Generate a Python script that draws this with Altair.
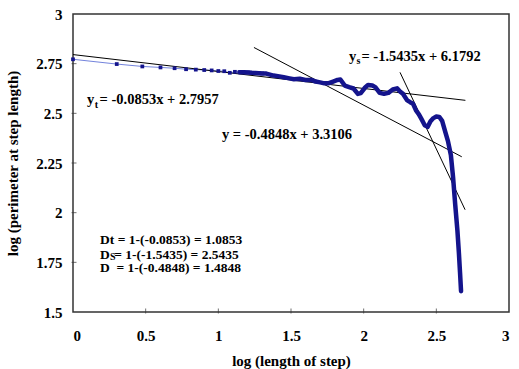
import altair as alt
import pandas as pd

# Divider-method perimeter curve: log10(step length) vs log10(perimeter)
log_step = [0.000, 0.301, 0.477, 0.602, 0.699, 0.778, 0.845, 0.903, 0.954, 1.000,
            1.041, 1.079, 1.114, 1.146, 1.176, 1.204, 1.230, 1.255, 1.279, 1.301,
            1.33, 1.38, 1.42, 1.45, 1.49, 1.52, 1.56, 1.60, 1.64, 1.67,
            1.70, 1.73, 1.76, 1.79, 1.82, 1.84, 1.87, 1.90, 1.93, 1.96,
            1.98, 2.01, 2.03, 2.06, 2.08, 2.11, 2.14, 2.17, 2.20, 2.23,
            2.25, 2.27, 2.30, 2.32, 2.34, 2.36, 2.38, 2.40, 2.42, 2.44,
            2.46, 2.48, 2.50, 2.52, 2.54, 2.56, 2.58, 2.60, 2.615, 2.63,
            2.645, 2.655, 2.663, 2.670]
log_perimeter = [2.772, 2.748, 2.736, 2.731, 2.727, 2.722, 2.720, 2.718, 2.716, 2.713,
                 2.712, 2.704, 2.709, 2.707, 2.707, 2.706, 2.704, 2.703, 2.702, 2.701,
                 2.700, 2.690, 2.686, 2.682, 2.676, 2.672, 2.674, 2.668, 2.668, 2.660,
                 2.656, 2.651, 2.652, 2.660, 2.668, 2.670, 2.640, 2.632, 2.625, 2.598,
                 2.602, 2.630, 2.643, 2.640, 2.632, 2.603, 2.598, 2.603, 2.620, 2.626,
                 2.610, 2.598, 2.565, 2.556, 2.548, 2.515, 2.495, 2.468, 2.440, 2.432,
                 2.460, 2.476, 2.484, 2.482, 2.462, 2.410, 2.360, 2.290, 2.180, 2.040,
                 1.910, 1.800, 1.700, 1.605]

# Fitted straight lines (textural, overall, structural)
trend_names = ["textural", "overall", "structural"]
trend_slopes = [-0.0853, -0.3848, -1.5435]
trend_intercepts = [2.7957, 3.3106, 6.1792]
trend_x_start = [0.0, 1.245, 2.25]
trend_x_end = [2.70, 2.675, 2.698]

x_ticks = [0, 0.5, 1, 1.5, 2, 2.5, 3]
y_ticks = [1.5, 1.75, 2, 2.25, 2.5, 2.75, 3]

# Equation labels placed in data units
eq_text = ["y", "= -0.0853x + 2.7957", "y = -0.4848x + 3.3106",
           "y", "= -1.5435x + 6.1792"]
eq_x = [0.096, 0.183, 1.025, 1.899, 1.985]
eq_y = [2.567, 2.567, 2.391, 2.785, 2.785]

# Fractal dimension summary lines
dim_text = ["Dt = 1-(-0.0853) = 1.0853", "D", "= 1-(-1.5435) = 2.5435",
            "D\u00a0\u00a0= 1-(-0.4848) = 1.4848"]
dim_x = [0.186, 0.186, 0.284, 0.186]
dim_y = [1.860, 1.789, 1.789, 1.719]

sub_text = ["t", "s", "S"]
sub_x = [0.149, 1.950, 0.2546]
sub_y = [2.542, 2.761, 1.777]

FONT = "Liberation Serif"
NAVY = "#14148c"

curve = pd.DataFrame({"x": log_step, "y": log_perimeter, "i": range(len(log_step))})

trend_rows = []
for name, m, b, x0, x1 in zip(trend_names, trend_slopes, trend_intercepts,
                              trend_x_start, trend_x_end):
    trend_rows.append({"name": name, "x": x0, "y": m * x0 + b})
    trend_rows.append({"name": name, "x": x1, "y": m * x1 + b})
trend = pd.DataFrame(trend_rows)

xs = alt.Scale(domain=[0, 3], nice=False, zero=False)
ys = alt.Scale(domain=[1.5, 3], nice=False, zero=False)

x_axis = alt.Axis(values=x_ticks, labelExpr="'' + datum.value", grid=False,
                  domain=False, ticks=False, tickSize=0, labelPadding=16,
                  labelFont=FONT, labelFontSize=15, labelFontWeight="bold",
                  labelColor="black",
                  title="log (length of step)", titleFont=FONT, titleFontSize=15,
                  titleFontWeight="bold", titleColor="black",
                  titleX=218, titleY=48, titleBaseline="middle", titleAlign="center")
y_axis = alt.Axis(values=y_ticks, labelExpr="'' + datum.value", grid=False,
                  domain=False, ticks=False, tickSize=0, labelPadding=11,
                  labelFont=FONT, labelFontSize=15, labelFontWeight="bold",
                  labelColor="black",
                  title="log (perimeter at step length)", titleFont=FONT,
                  titleFontSize=15, titleFontWeight="bold", titleColor="black",
                  titleX=-61, titleY=149, titleAngle=270,
                  titleBaseline="middle", titleAlign="center")

X = alt.X("x:Q", scale=xs)
Y = alt.Y("y:Q", scale=ys)

base = alt.Chart(curve)

thin = base.mark_line(color="#7383dc", strokeWidth=1).encode(
    x=alt.X("x:Q", scale=xs, axis=x_axis),
    y=alt.Y("y:Q", scale=ys, axis=y_axis),
    order="i:Q",
)

thick = base.transform_filter("datum.x >= 1.14").mark_line(
    color=NAVY, strokeWidth=4.5, strokeJoin="round", strokeCap="round"
).encode(x=X, y=Y, order="i:Q")

markers = base.transform_filter("datum.x < 1.33").mark_square(
    size=14, color=NAVY, opacity=1
).encode(x=X, y=Y)

lines = alt.Chart(trend).mark_line(color="black", strokeWidth=1).encode(
    x=X, y=Y, detail="name:N",
)

xt = alt.Chart(pd.DataFrame({"x": x_ticks[1:-1]})).mark_tick(
    color="#333", thickness=1, size=5
).encode(x=X, y=alt.value(297))

yt = alt.Chart(pd.DataFrame({"y": y_ticks[1:-1]})).mark_tick(
    color="#333", thickness=1, size=5, orient="horizontal"
).encode(y=Y, x=alt.value(1))

equations = alt.Chart(pd.DataFrame({"x": eq_x, "y": eq_y, "t": eq_text})).mark_text(
    font=FONT, fontSize=14.5, fontWeight="bold", align="left", baseline="middle",
    color="black"
).encode(x=X, y=Y, text="t:N")

dims = alt.Chart(pd.DataFrame({"x": dim_x, "y": dim_y, "t": dim_text})).mark_text(
    font=FONT, fontSize=13.5, fontWeight="bold", align="left", baseline="middle",
    color="black"
).encode(x=X, y=Y, text="t:N")

subs = alt.Chart(pd.DataFrame({"x": sub_x, "y": sub_y, "t": sub_text})).mark_text(
    font=FONT, fontSize=10, fontWeight="bold", align="left", baseline="middle",
    color="black"
).encode(x=X, y=Y, text="t:N")

chart = alt.layer(thin, lines, thick, markers, xt, yt, equations, dims, subs).properties(
    width=436, height=298,
    autosize=alt.AutoSizeParams(type="none"),
    padding={"left": 73, "top": 14, "right": 10, "bottom": 57},
    background="white",
).configure_view(stroke="#333", strokeWidth=1.5)

chart.save("out.html", embed_options={"renderer": "svg", "actions": False})
